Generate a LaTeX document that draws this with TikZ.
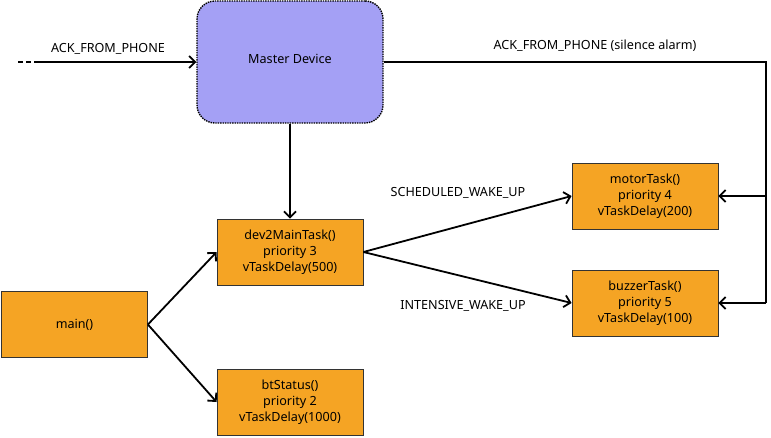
\documentclass[tikz,border=0pt]{standalone}
\usepackage{fontspec}
\setmainfont{Noto Sans}
\usetikzlibrary{arrows.meta}
\definecolor{taskfill}{RGB}{245,164,36}
\definecolor{masterfill}{RGB}{164,160,245}
\begin{document}
\begin{tikzpicture}[x=1pt,y=-1pt,
  every node/.style={font=\fontsize{12.6}{16}\selectfont},
  task/.style={draw=black!80, line width=0.8pt, fill=taskfill, minimum width=146pt, minimum height=66pt, align=center, inner sep=0pt},
  master/.style={draw=black, densely dotted, line width=1.4pt, fill=masterfill, rounded corners=18pt, minimum width=186pt, minimum height=122pt, inner sep=0pt},
  conn/.style={draw=black, line width=1.8pt, -{Straight Barb[length=6pt,width=12pt]}},
  lbl/.style={inner sep=1pt}
]
\useasboundingbox (0,0) rectangle (771,437);
\node[master] (md) at (290,62) {};
\node at (290,59) {Master Device};
\node[task] (d2m) at (290,252) {dev2MainTask()\\priority 3\\vTaskDelay(500)};
\node[task] (mn) at (74.5,324.5) {main()};
\node[task] (bt) at (290,402) {btStatus()\\priority 2\\vTaskDelay(1000)};
\node[task] (mt) at (645,196) {motorTask()\\priority 4\\vTaskDelay(200)};
\node[task] (bz) at (645,303) {buzzerTask()\\priority 5\\vTaskDelay(100)};
\coordinate (in0) at (18,62);
\coordinate (in1) at (38,62);
\coordinate (rtop) at (766,62);
\coordinate (rbot) at (766,303);
\draw[line width=1.8pt, dash pattern=on 5pt off 3pt] (in0) -- (in1);
\draw[conn] (in1) -- (md.west);
\node[lbl] at (108,49) {ACK\_FROM\_PHONE};
\draw[conn] (md.south) -- (d2m.north);
\draw[conn] (mn.east) -- (d2m.west);
\draw[conn] (mn.east) -- (bt.west);
\draw[conn] (d2m.east) -- (mt.west);
\draw[conn] (d2m.east) -- (bz.west);
\node[lbl] at (458,193) {SCHEDULED\_WAKE\_UP};
\node[lbl] at (463,306) {INTENSIVE\_WAKE\_UP};
\draw[line width=1.8pt] (md.east) -- (rtop) -- (rbot);
\draw[conn] (rtop |- mt.east) -- (mt.east);
\draw[conn] (rbot) -- (bz.east);
\node[lbl] at (595,46) {ACK\_FROM\_PHONE (silence alarm)};
\end{tikzpicture}
\end{document}
